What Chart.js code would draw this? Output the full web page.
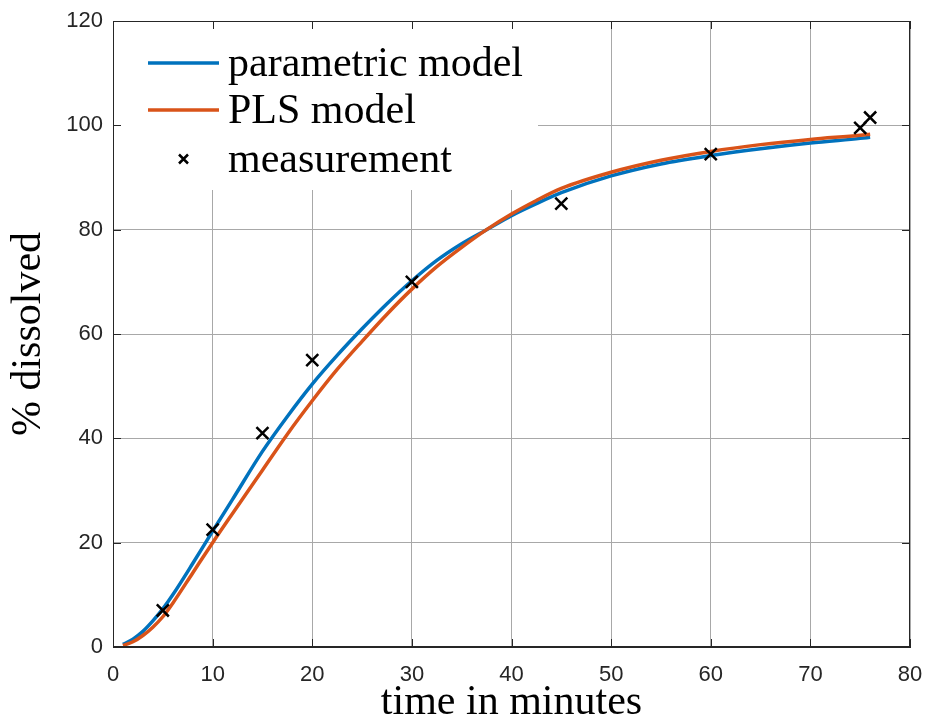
<!DOCTYPE html>
<html lang="en">
<head>
    <meta charset="UTF-8">
    <title>Dissolution profile</title>
    <script src="https://cdn.jsdelivr.net/npm/chart.js"></script>
    <style>
        html, body { margin: 0; padding: 0; background: #fff; }
        #wrap { width: 928px; height: 724px; }
    </style>
</head>
<body>
    <div id="wrap"><canvas id="dissolutionChart" width="928" height="724"></canvas></div>

    <script>
        // values
        const curveTimes = [1, 2, 3, 4, 5, 6, 8, 10, 12, 15, 17.5, 20, 22.5, 25, 27.5, 30, 32.5, 35, 37.5, 40, 42.5, 45, 50, 55, 60, 65, 70, 75, 76];
        const parametricModel = [0.5, 1.5, 3.0, 5.0, 7.3, 10.0, 16.0, 22.2, 28.3, 37.5, 44.2, 50.4, 55.9, 61.0, 65.8, 70.2, 74.1, 77.3, 80.0, 82.7, 85.0, 87.1, 90.3, 92.6, 94.2, 95.5, 96.6, 97.5, 97.7];
        const plsModel = [0.3, 1.0, 2.2, 3.8, 5.8, 8.4, 14.2, 20.0, 25.6, 33.9, 40.8, 47.2, 53.2, 58.6, 63.8, 68.6, 72.9, 76.6, 80.0, 83.0, 85.6, 87.9, 91.0, 93.3, 95.0, 96.3, 97.3, 98.1, 98.3];
        const measTimes = [5, 10, 15, 20, 30, 45, 60, 75, 76];
        const measValues = [7, 22.5, 41, 55, 70, 85, 94.5, 99.5, 101.5];
        const xTicks = [0, 10, 20, 30, 40, 50, 60, 70, 80];
        const yTicks = [0, 20, 40, 60, 80, 100, 120];

        const BLUE = '#0072BD';
        const ORANGE = '#D95319';
        const AXIS = '#262626';
        const SERIF = '"Liberation Serif", "DejaVu Serif", serif';
        const SANS = '"Liberation Sans", Arial, sans-serif';

        const toXY = (xs, ys) => xs.map((x, i) => ({ x: x, y: ys[i] }));

        // white legend box behind the lines, covers the grid
        const legendBg = {
            id: 'legendBg',
            beforeDatasetsDraw(chart) {
                const a = chart.chartArea, ctx = chart.ctx;
                ctx.save();
                ctx.fillStyle = '#fff';
                ctx.fillRect(a.left + 1, a.top + 1, 424, 168);
                ctx.restore();
            }
        };

        // box, inward ticks and the legend entries
        const frame = {
            id: 'frame',
            afterDatasetsDraw(chart) {
                const a = chart.chartArea, ctx = chart.ctx;
                const xs = chart.scales.x, ys = chart.scales.y;
                ctx.save();
                ctx.strokeStyle = AXIS;
                ctx.lineWidth = 1;
                ctx.beginPath();
                xTicks.forEach(v => {
                    const px = Math.round(xs.getPixelForValue(v)) + 0.5;
                    ctx.moveTo(px, a.bottom); ctx.lineTo(px, a.bottom - 8);
                    ctx.moveTo(px, a.top); ctx.lineTo(px, a.top + 8);
                });
                yTicks.forEach(v => {
                    const py = Math.round(ys.getPixelForValue(v)) + 0.5;
                    ctx.moveTo(a.left, py); ctx.lineTo(a.left + 8, py);
                    ctx.moveTo(a.right, py); ctx.lineTo(a.right - 8, py);
                });
                ctx.stroke();
                ctx.strokeRect(Math.round(a.left) + 0.5, Math.round(a.top) + 0.5,
                    Math.round(a.right - a.left) - 1, Math.round(a.bottom - a.top) - 1);

                // legend
                const ds = chart.data.datasets;
                const x0 = a.left + 35, x1 = a.left + 106, tx = a.left + 115;
                const rows = [a.top + 42, a.top + 89, a.top + 138];
                ctx.font = '42px ' + SERIF;
                ctx.textBaseline = 'middle';
                ctx.fillStyle = '#000';
                ds.forEach((d, i) => {
                    const y = rows[i];
                    if (d.showLine === false) {
                        const cx = (x0 + x1) / 2, r = 4.5;
                        ctx.strokeStyle = '#000';
                        ctx.lineWidth = 2.5;
                        ctx.beginPath();
                        ctx.moveTo(cx - r, y - r); ctx.lineTo(cx + r, y + r);
                        ctx.moveTo(cx - r, y + r); ctx.lineTo(cx + r, y - r);
                        ctx.stroke();
                    } else {
                        ctx.strokeStyle = d.borderColor;
                        ctx.lineWidth = 3.5;
                        ctx.beginPath();
                        ctx.moveTo(x0, y); ctx.lineTo(x1, y);
                        ctx.stroke();
                    }
                    ctx.fillText(d.label, tx, y + 2);
                });
                ctx.restore();
            }
        };

        const ctx = document.getElementById('dissolutionChart').getContext('2d');

        let dissolutionChart = new Chart(ctx, {
            type: 'line',
            data: {
                datasets: [{
                    label: 'parametric model',
                    data: toXY(curveTimes, parametricModel),
                    borderColor: BLUE,
                    borderWidth: 3.5,
                    pointRadius: 0,
                    cubicInterpolationMode: 'monotone',
                    order: 3
                }, {
                    label: 'PLS model',
                    data: toXY(curveTimes, plsModel),
                    borderColor: ORANGE,
                    borderWidth: 3.5,
                    pointRadius: 0,
                    cubicInterpolationMode: 'monotone',
                    order: 2
                }, {
                    label: 'measurement',
                    data: toXY(measTimes, measValues),
                    showLine: false,
                    pointStyle: 'crossRot',
                    pointRadius: 8.5,
                    pointBorderWidth: 2.5,
                    pointBorderColor: '#000',
                    borderColor: '#000',
                    order: 1
                }]
            },
            options: {
                responsive: false,
                animation: false,
                layout: { padding: { top: 21, right: 18, left: 0, bottom: 0 } },
                plugins: {
                    legend: { display: false },
                    tooltip: { enabled: false }
                },
                scales: {
                    x: {
                        type: 'linear',
                        min: 0,
                        max: 80,
                        afterFit: s => { s.height = 77; s.paddingLeft = 0; s.paddingRight = 0; },
                        afterBuildTicks: s => { s.ticks = xTicks.map(v => ({ value: v })); },
                        grid: { color: '#a8a8a8', lineWidth: 1, drawTicks: false },
                        border: { color: AXIS, width: 1 },
                        ticks: {
                            padding: 15,
                            color: AXIS,
                            font: { family: SANS, size: 22 },
                            maxRotation: 0
                        },
                        title: {
                            display: true,
                            text: 'time in minutes',
                            color: '#000',
                            font: { family: SERIF, size: 42, lineHeight: 1 },
                            padding: { top: 0, bottom: 0 }
                        }
                    },
                    y: {
                        min: 0,
                        max: 120,
                        afterFit: s => { s.width = 113; s.paddingTop = 0; s.paddingBottom = 0; },
                        afterBuildTicks: s => { s.ticks = yTicks.map(v => ({ value: v })); },
                        grid: { color: '#a8a8a8', lineWidth: 1, drawTicks: false },
                        border: { color: AXIS, width: 1 },
                        ticks: {
                            padding: 10,
                            color: AXIS,
                            font: { family: SANS, size: 22 }
                        },
                        title: {
                            display: true,
                            text: '% dissolved',
                            color: '#000',
                            font: { family: SERIF, size: 42, lineHeight: 1 },
                            padding: { top: 8, bottom: 0 }
                        }
                    }
                }
            },
            plugins: [legendBg, frame]
        });
    </script>
</body>
</html>
